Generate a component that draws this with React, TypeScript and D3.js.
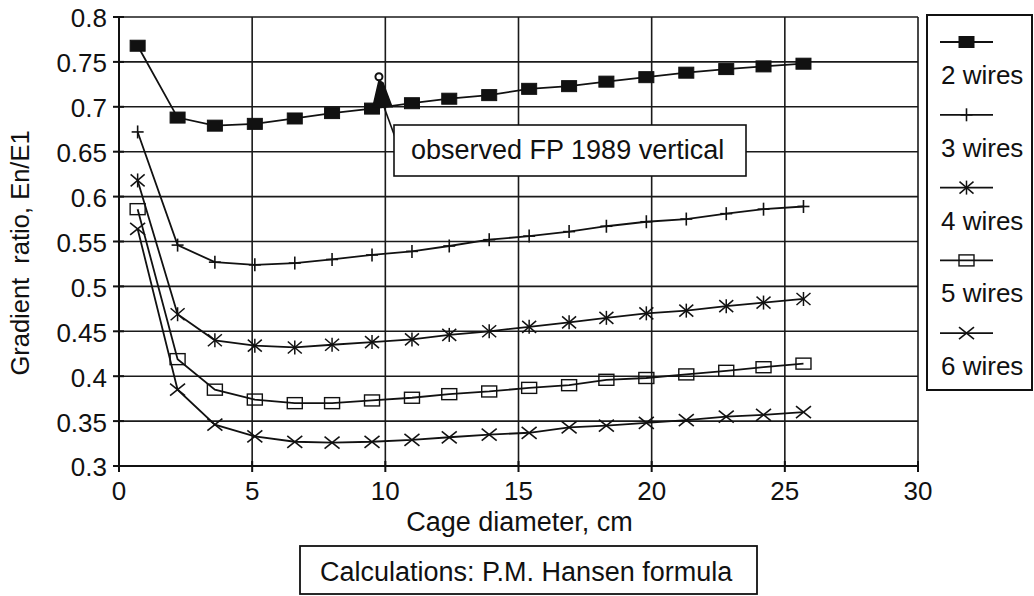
import React from "react";
import * as d3 from "d3";

// Cage diameter (cm) at which the gradient ratio was computed
const diameters = [0.7, 2.2, 3.6, 5.1, 6.6, 8.0, 9.5, 11.0, 12.4, 13.9, 15.4, 16.9, 18.3, 19.8, 21.3, 22.8, 24.2, 25.7];

// Gradient ratio En/E1 per number of wires
const wires2 = [0.768, 0.688, 0.679, 0.681, 0.687, 0.693, 0.698, 0.704, 0.709, 0.713, 0.72, 0.723, 0.728, 0.733, 0.738, 0.742, 0.745, 0.748];
const wires3 = [0.672, 0.546, 0.527, 0.524, 0.526, 0.53, 0.535, 0.539, 0.545, 0.552, 0.556, 0.561, 0.567, 0.572, 0.575, 0.581, 0.586, 0.589];
const wires4 = [0.618, 0.469, 0.44, 0.434, 0.432, 0.435, 0.438, 0.441, 0.446, 0.45, 0.455, 0.46, 0.465, 0.47, 0.473, 0.478, 0.482, 0.486];
const wires5 = [0.586, 0.419, 0.385, 0.374, 0.37, 0.37, 0.373, 0.376, 0.38, 0.383, 0.387, 0.39, 0.396, 0.398, 0.402, 0.406, 0.41, 0.414];
const wires6 = [0.564, 0.385, 0.346, 0.333, 0.327, 0.326, 0.327, 0.329, 0.332, 0.335, 0.337, 0.343, 0.345, 0.348, 0.351, 0.355, 0.357, 0.36];

const seriesNames = ["2 wires", "3 wires", "4 wires", "5 wires", "6 wires"];
const seriesValues = [wires2, wires3, wires4, wires5, wires6];
const markerKinds = ["filledSquare", "plus", "asterisk", "openSquare", "cross"];

const xTicks = [0, 5, 10, 15, 20, 25, 30];
const yTicks = [0.3, 0.35, 0.4, 0.45, 0.5, 0.55, 0.6, 0.65, 0.7, 0.75, 0.8];
const yTickLabels = ["0.3", "0.35", "0.4", "0.45", "0.5", "0.55", "0.6", "0.65", "0.7", "0.75", "0.8"];

// Observed field value (FP 1989, vertical cage)
const observedX = 9.76;
const observedY = 0.7335;
const observedBase = 0.7;
const observedLabel = "observed FP 1989 vertical";
const footnote = "Calculations: P.M. Hansen formula";

const FONT = "'Liberation Sans', Arial, Helvetica, sans-serif";

function Marker({ kind, cx, cy }: { kind: string; cx: number; cy: number }) {
  const s = "#111";
  switch (kind) {
    case "filledSquare":
      return <rect x={cx - 7.5} y={cy - 5.5} width={15} height={11} fill={s} stroke={s} strokeWidth={1} />;
    case "plus":
      return (
        <g stroke={s} strokeWidth={1.6}>
          <line x1={cx} y1={cy - 6.5} x2={cx} y2={cy + 6.5} />
          <line x1={cx - 6} y1={cy} x2={cx + 6} y2={cy} />
        </g>
      );
    case "asterisk":
      return (
        <g stroke={s} strokeWidth={1.5}>
          <line x1={cx - 7} y1={cy - 6} x2={cx + 7} y2={cy + 6} />
          <line x1={cx - 7} y1={cy + 6} x2={cx + 7} y2={cy - 6} />
          <line x1={cx} y1={cy - 7} x2={cx} y2={cy + 7} />
        </g>
      );
    case "openSquare":
      return <rect x={cx - 7.5} y={cy - 5.5} width={15} height={11} fill="none" stroke={s} strokeWidth={1.4} />;
    case "cross":
    default:
      return (
        <g stroke={s} strokeWidth={1.6}>
          <line x1={cx - 7.5} y1={cy - 6} x2={cx + 7.5} y2={cy + 6} />
          <line x1={cx - 7.5} y1={cy + 6} x2={cx + 7.5} y2={cy - 6} />
        </g>
      );
  }
}

export default function App() {
  const x = d3.scaleLinear().domain([0, 30]).range([119, 918]);
  const y = d3.scaleLinear().domain([0.3, 0.8]).range([466, 17]);

  const line = d3
    .line<number>()
    .x((_, i) => x(diameters[i]))
    .y((v) => y(v));

  const legendX0 = 940;
  const legendX1 = 993;
  const legendTop = 42;
  const legendStep = 72.8;

  const ox = x(observedX);
  const oy = y(observedY);
  const baseY = y(observedBase);

  return (
    <svg
      width={1034}
      height={596}
      style={{ position: "absolute", left: 0, top: 0, background: "#fff" }}
      fontFamily={FONT}
    >
      <rect x={0} y={0} width={1034} height={596} fill="#fff" />

      {/* grid */}
      <g stroke="#1a1a1a" strokeWidth={1.6}>
        {yTicks.map((t) => (
          <line key={"gy" + t} x1={x(0)} x2={x(30)} y1={y(t)} y2={y(t)} />
        ))}
        {xTicks.map((t) => (
          <line key={"gx" + t} x1={x(t)} x2={x(t)} y1={y(0.8)} y2={y(0.3)} />
        ))}
      </g>

      {/* axes with crossing ticks */}
      <g stroke="#111" strokeWidth={2}>
        <line x1={x(0)} x2={x(0)} y1={y(0.8) - 1} y2={y(0.3) + 1} />
        <line x1={x(0)} x2={x(30)} y1={y(0.3)} y2={y(0.3)} />
        {yTicks.map((t) => (
          <line key={"ty" + t} x1={x(0) - 6} x2={x(0) + 5} y1={y(t)} y2={y(t)} />
        ))}
        {xTicks.map((t) => (
          <line key={"tx" + t} x1={x(t)} x2={x(t)} y1={y(0.3) - 5} y2={y(0.3) + 6} />
        ))}
      </g>

      {/* tick labels */}
      <g fontSize={26} fill="#111">
        {yTicks.map((t, i) => (
          <text key={"ly" + t} x={x(0) - 12} y={y(t)} dy="0.4em" textAnchor="end">
            {yTickLabels[i]}
          </text>
        ))}
        {xTicks.map((t) => (
          <text key={"lx" + t} x={x(t)} y={500} textAnchor="middle">
            {t}
          </text>
        ))}
      </g>

      {/* axis titles */}
      <text x={(x(0) + x(30)) / 2 + 1} y={531} fontSize={27} textAnchor="middle" fill="#111">
        Cage diameter, cm
      </text>
      <text
        transform="translate(29,253) rotate(-90)"
        fontSize={25.5}
        textAnchor="middle"
        fill="#111"
        style={{ whiteSpace: "pre" }}
      >
        {"Gradient  ratio, En/E1"}
      </text>

      {/* series */}
      {seriesValues.map((vals, si) => (
        <g key={seriesNames[si]}>
          <path d={line(vals) || ""} fill="none" stroke="#111" strokeWidth={1.8} />
          {vals.map((v, i) => (
            <Marker key={i} kind={markerKinds[si]} cx={x(diameters[i])} cy={y(v)} />
          ))}
        </g>
      ))}

      {/* observed value marker and callout */}
      <g>
        <path
          d={`M${ox},${oy + 4} L${ox - 6},${baseY} L${ox + 13},${baseY} L${ox + 4},${oy + 6} Z`}
          fill="#111"
          stroke="#111"
          strokeWidth={1.5}
        />
        <circle cx={ox} cy={oy} r={3.5} fill="#fff" stroke="#111" strokeWidth={2} />
        <line x1={ox + 5} y1={baseY} x2={395} y2={137} stroke="#111" strokeWidth={1.6} />
        <rect x={394} y={125} width={352} height={51} fill="#fff" stroke="#111" strokeWidth={1.6} />
        <text x={411} y={159} fontSize={27} fill="#111">
          {observedLabel}
        </text>
      </g>

      {/* legend */}
      <rect x={927} y={15} width={105} height={375} fill="#fff" stroke="#111" strokeWidth={2} />
      {seriesNames.map((name, i) => {
        const ly = legendTop + i * legendStep;
        return (
          <g key={"lg" + name}>
            <line x1={legendX0} x2={legendX1} y1={ly} y2={ly} stroke="#111" strokeWidth={1.8} />
            <Marker kind={markerKinds[i]} cx={(legendX0 + legendX1) / 2} cy={ly} />
            <text x={941} y={ly + 42} fontSize={26} fill="#111">
              {name}
            </text>
          </g>
        );
      })}

      {/* footnote box */}
      <rect x={300} y={546} width={457} height={48} fill="#fff" stroke="#111" strokeWidth={1.8} />
      <text x={320} y={581} fontSize={27} fill="#111">
        {footnote}
      </text>
    </svg>
  );
}
